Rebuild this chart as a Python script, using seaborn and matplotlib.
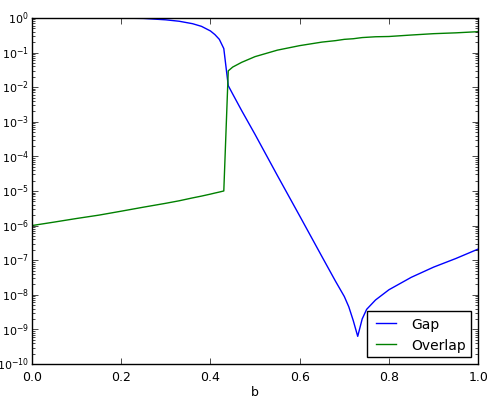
import pandas as pd
import numpy as np
import matplotlib
matplotlib.use("Agg")
import matplotlib.pyplot as plt
import seaborn as sns

# valores
b = [0.0, 0.05, 0.10, 0.15, 0.20, 0.25, 0.30, 0.33, 0.36, 0.38, 0.40, 0.41,
     0.42, 0.43, 0.44, 0.45, 0.47, 0.50, 0.55, 0.60, 0.65, 0.68, 0.70, 0.71,
     0.72, 0.73, 0.74, 0.75, 0.77, 0.80, 0.85, 0.90, 0.95, 1.00]

gap = [1.0, 1.0, 0.999, 0.995, 0.985, 0.965, 0.88, 0.80, 0.68, 0.57, 0.42, 0.33,
       0.24, 0.13, 1.1e-2, 6.3e-3, 2.1e-3, 4.3e-4, 2.8e-5, 1.9e-6, 1.26e-7, 2.5e-8, 8.9e-9, 4.5e-9,
       1.8e-9, 6.3e-10, 2.0e-9, 3.8e-9, 7.1e-9, 1.4e-8, 3.2e-8, 6.3e-8, 1.12e-7, 2.1e-7]

overlap = [1.0e-6, 1.26e-6, 1.6e-6, 2.0e-6, 2.6e-6, 3.4e-6, 4.4e-6, 5.2e-6, 6.3e-6, 7.1e-6, 8.1e-6, 8.7e-6,
           9.3e-6, 1.0e-5, 2.95e-2, 3.8e-2, 5.2e-2, 7.6e-2, 0.117, 0.158, 0.20, 0.22, 0.24, 0.245,
           0.25, 0.26, 0.27, 0.275, 0.285, 0.29, 0.32, 0.35, 0.37, 0.40]

df = pd.DataFrame({'b': b, 'Gap': gap, 'Overlap': overlap})

plt.style.use('classic')
plt.rcParams['font.family'] = ['DejaVu Sans']
plt.rcParams['font.size'] = 10
plt.rcParams['mathtext.fontset'] = 'dejavusans'

fig = plt.figure(figsize=(4.9, 4.02), dpi=100, facecolor='white')
ax = fig.add_axes([0.065, 0.092, 0.911, 0.861])

sns.lineplot(data=df, x='b', y='Gap', color='b', lw=1.0, label='Gap', ax=ax)
sns.lineplot(data=df, x='b', y='Overlap', color='g', lw=1.0, label='Overlap', ax=ax)

ax.set_yscale('log')
ax.set_xlim(0, 1)
ax.set_ylim(1e-10, 1)
ax.set_xlabel('b', fontsize=9, labelpad=2)
ax.set_ylabel('')
ax.tick_params(axis='x', labelsize=9)
ax.tick_params(axis='y', which='major', labelsize=8, pad=2)

leg = ax.legend(loc='lower right', fontsize=10)
leg.get_frame().set_edgecolor('black')

fig.savefig("out.png", dpi=100, facecolor='white')
